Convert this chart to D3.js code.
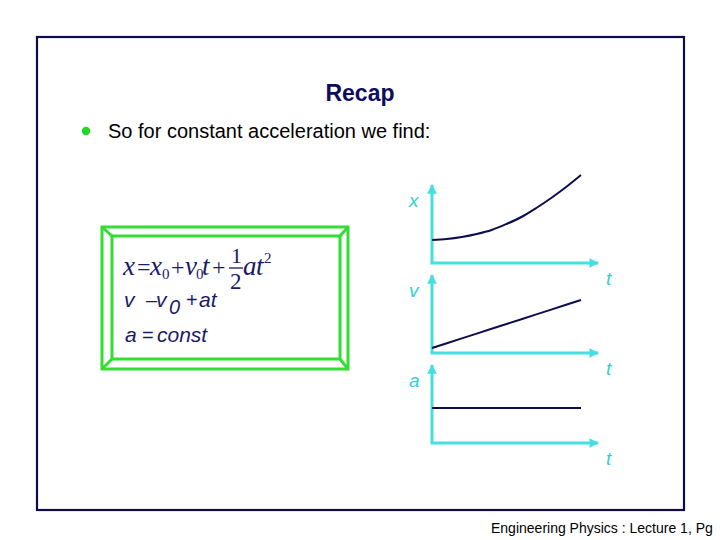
<!DOCTYPE html>
<html><head><meta charset="utf-8">
<script src="https://cdn.jsdelivr.net/npm/d3@7"></script>
<style>html,body{margin:0;padding:0;background:#fff;}</style>
</head><body>
<script>
// ---- data ----
const time = [0, 1, 2, 3, 4, 5, 6, 7, 8, 9, 10];
const position = [2.3, 2.4, 2.6, 2.9, 3.3, 3.9, 4.6, 5.5, 6.5, 7.6, 8.8];
const velocity = [0.5, 0.98, 1.46, 1.94, 2.42, 2.9, 3.38, 3.86, 4.34, 4.82, 5.3];
const acceleration = [3.5, 3.5, 3.5, 3.5, 3.5, 3.5, 3.5, 3.5, 3.5, 3.5, 3.5];
const panelLabels = ["x", "v", "a"];
const axisLabel = "t";
const title = "Recap";
const bullet = "So for constant acceleration we find:";
const footer = "Engineering Physics : Lecture 1, Pg";

const W = 720, H = 540;
const svg = d3.select("body").append("svg").attr("width", W).attr("height", H);

const navy = "#0d0d4d", cyan = "#45dfe2", cyanText = "#33cfd6", green = "#33dd33";

// frame
svg.append("rect").attr("x", 37).attr("y", 37).attr("width", 647).attr("height", 473)
  .attr("fill", "none").attr("stroke", navy).attr("stroke-width", 2.2);

svg.append("text").attr("x", 360).attr("y", 101).attr("text-anchor", "middle")
  .attr("font-family", "Liberation Sans, Arial, sans-serif").attr("font-weight", "bold")
  .attr("font-size", 23).attr("fill", "#0d0d5e").text(title);

svg.append("circle").attr("cx", 86).attr("cy", 131).attr("r", 4.2).attr("fill", "#22d822");
svg.append("text").attr("x", 108).attr("y", 138)
  .attr("font-family", "Liberation Sans, Arial, sans-serif").attr("font-size", 20)
  .attr("fill", "#000").text(bullet);

svg.append("text").attr("x", 491).attr("y", 533)
  .attr("font-family", "Liberation Sans, Arial, sans-serif").attr("font-size", 14)
  .attr("fill", "#000").text(footer);

// green box
const box = svg.append("g").attr("fill", "none").attr("stroke", green).attr("stroke-width", 3);
const o = {x0: 102, y0: 227, x1: 348, y1: 369}, inn = {x0: 112, y0: 236, x1: 340, y1: 359};
box.append("rect").attr("x", o.x0).attr("y", o.y0).attr("width", o.x1 - o.x0).attr("height", o.y1 - o.y0);
box.append("rect").attr("x", inn.x0).attr("y", inn.y0).attr("width", inn.x1 - inn.x0).attr("height", inn.y1 - inn.y0);
[[o.x0, o.y0, inn.x0, inn.y0], [o.x1, o.y0, inn.x1, inn.y0], [o.x0, o.y1, inn.x0, inn.y1], [o.x1, o.y1, inn.x1, inn.y1]]
  .forEach(d => box.append("line").attr("x1", d[0]).attr("y1", d[1]).attr("x2", d[2]).attr("y2", d[3]));

// equations
const eqColor = "#1a1a6a";
const eq = svg.append("g").attr("fill", eqColor);
const serif = "Liberation Serif, Times New Roman, serif";
const sans = "Liberation Sans, Arial, sans-serif";
function t(x, y, s, size, fam, ital) {
  eq.append("text").attr("x", x).attr("y", y).attr("font-family", fam).attr("font-size", size)
    .attr("font-style", ital ? "italic" : "normal").text(s);
}
t(123, 275, "x", 27, serif, true);
t(137, 275, "=", 24, serif, false);
t(150, 275, "x", 27, serif, true);
t(162, 279, "0", 15, serif, false);
t(171, 275, "+", 24, serif, false);
t(185, 275, "v", 27, serif, true);
t(196, 279, "0", 15, serif, false);
t(202, 275, "t", 27, serif, true);
t(212, 275, "+", 24, serif, false);
t(231, 263, "1", 22, serif, false);
eq.append("line").attr("x1", 229).attr("x2", 243).attr("y1", 268).attr("y2", 268).attr("stroke", eqColor).attr("stroke-width", 1.3);
t(230, 289, "2", 23, serif, false);
t(243, 275, "a", 27, serif, true);
t(256, 275, "t", 27, serif, true);
t(264, 263, "2", 15, serif, false);

t(124, 307, "v", 21, sans, true);
t(146, 307, "\u2013", 20, sans, false);
t(156, 307, "v", 21, sans, true);
t(169, 314, "0", 20, sans, true);
t(186, 307, "+", 20, sans, false);
t(199, 307, "at", 21, sans, true);

t(125, 342, "a", 21, sans, true);
t(142, 342, "=", 20, sans, false);
t(157, 342, "const", 21, sans, true);

// graphs
const tScale = d3.scaleLinear().domain([0, 10]).range([432, 581]);
const panels = [
  {values: position, origin: 263, label: panelLabels[0], curve: d3.curveCatmullRom},
  {values: velocity, origin: 353, label: panelLabels[1], curve: d3.curveLinear},
  {values: acceleration, origin: 443, label: panelLabels[2], curve: d3.curveLinear}
];
const defs = svg.append("defs");
defs.append("marker").attr("id", "arr").attr("viewBox", "0 0 10 10").attr("refX", 9).attr("refY", 5)
  .attr("markerWidth", 3.2).attr("markerHeight", 3.2).attr("orient", "auto")
  .append("path").attr("d", "M0,0L10,5L0,10Z").attr("fill", cyan);

panels.forEach(p => {
  const y = d3.scaleLinear().domain([0, 7.8]).range([p.origin, p.origin - 78]);
  const g = svg.append("g");
  g.append("line").attr("x1", tScale(0)).attr("x2", tScale(0)).attr("y1", y(0)).attr("y2", y(7.8))
    .attr("stroke", cyan).attr("stroke-width", 3).attr("marker-end", "url(#arr)");
  g.append("line").attr("x1", tScale(0) - 1.5).attr("x2", tScale(11.15)).attr("y1", y(0)).attr("y2", y(0))
    .attr("stroke", cyan).attr("stroke-width", 3).attr("marker-end", "url(#arr)");
  const line = d3.line().x((d, i) => tScale(time[i])).y(d => y(d)).curve(p.curve);
  g.append("path").datum(p.values).attr("d", line).attr("fill", "none").attr("stroke", navy).attr("stroke-width", 2);
  g.append("text").attr("x", 409).attr("y", y(0) - 56).attr("font-family", sans).attr("font-style", "italic")
    .attr("font-size", 19).attr("fill", cyanText).text(p.label);
  g.append("text").attr("x", 606).attr("y", y(0) + 22).attr("font-family", sans).attr("font-style", "italic")
    .attr("font-size", 19).attr("fill", cyanText).text(axisLabel);
});
</script>
</body></html>
